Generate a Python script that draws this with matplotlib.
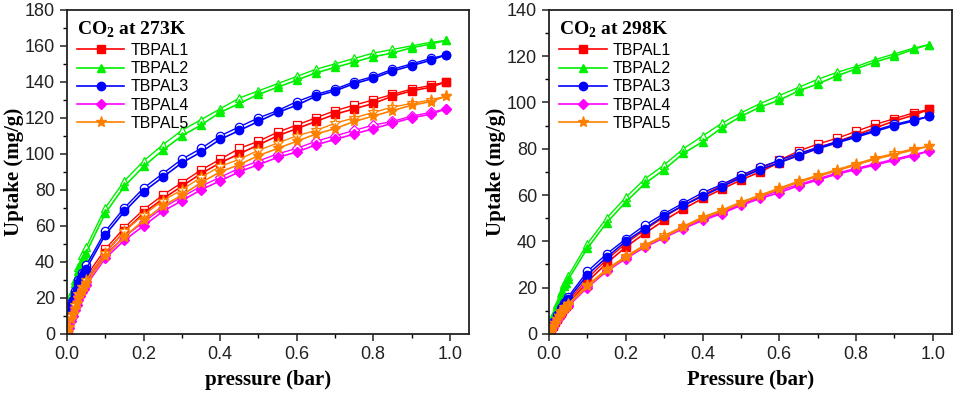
import matplotlib.pyplot as plt
from matplotlib.ticker import MultipleLocator

# pressure grids (bar)
p_ads = [0.002, 0.005, 0.01, 0.015, 0.02, 0.025, 0.03, 0.035, 0.04, 0.045, 0.05,
         0.1, 0.15, 0.2, 0.25, 0.3, 0.35, 0.4, 0.45, 0.5, 0.55, 0.6, 0.65,
         0.7, 0.75, 0.8, 0.85, 0.9, 0.95, 0.99]
p_des = [0.99, 0.95, 0.9, 0.85, 0.8, 0.75, 0.7, 0.65, 0.6, 0.55, 0.5, 0.45,
         0.4, 0.35, 0.3, 0.25, 0.2, 0.15, 0.1, 0.05, 0.04, 0.03, 0.02, 0.01]

names = ["TBPAL1", "TBPAL2", "TBPAL3", "TBPAL4", "TBPAL5"]
colors = ["#ff0000", "#00f000", "#0000ff", "#ff00ff", "#ff8000"]
markers = ["s", "^", "o", "D", "*"]

# CO2 at 273 K, adsorption
ads_273 = [
    [2, 6, 10, 13, 16, 19, 22, 24, 26, 28, 30,
     45, 57, 67, 75, 82, 89, 95, 100, 105, 110, 114, 118,
     122, 125, 128, 132, 135, 137, 140],
    [13, 16, 20, 24, 28, 31, 35, 38, 41, 43, 45,
     67, 82, 93, 102, 110, 116, 123, 128, 133, 137, 141, 145,
     148, 151, 154, 156, 159, 161, 163],
    [9, 12, 16, 19, 22, 25, 28, 30, 32, 34, 36,
     55, 68, 79, 87, 95, 101, 108, 113, 118, 123, 127, 132,
     135, 139, 142, 146, 149, 152, 155],
    [0, 3, 7, 10, 13, 16, 19, 21, 23, 25, 27,
     42, 52, 60, 68, 74, 80, 85, 90, 94, 98, 101, 105,
     108, 111, 114, 117, 120, 122, 125],
    [1, 4, 8, 11, 14, 17, 20, 22, 24, 26, 28,
     43, 54, 63, 71, 77, 84, 90, 94, 99, 103, 107, 111,
     114, 118, 121, 124, 127, 129, 132],
]
# CO2 at 273 K, desorption
des_273 = [
    [140, 138, 136, 133, 130, 127, 124, 120, 116, 112, 107, 103,
     97, 91, 84, 77, 69, 59, 47, 32, 28, 24, 18, 12],
    [163, 162, 160, 158, 156, 153, 150, 147, 143, 139, 135, 131,
     125, 119, 113, 105, 96, 85, 70, 48, 44, 37, 30, 22],
    [155, 153, 150, 147, 143, 140, 136, 133, 129, 124, 120, 115,
     110, 103, 97, 89, 81, 70, 57, 38, 34, 30, 24, 17],
    [125, 123, 121, 118, 116, 113, 110, 107, 103, 100, 96, 92,
     87, 82, 76, 70, 62, 54, 44, 29, 25, 21, 15, 9],
    [132, 130, 128, 126, 123, 120, 117, 113, 110, 106, 102, 97,
     93, 87, 80, 74, 66, 57, 45, 30, 26, 22, 16, 10],
]

# CO2 at 298 K, adsorption
ads_298 = [
    [0.5, 2, 3.5, 5, 6.5, 8, 9, 10, 11, 12, 13,
     22.5, 30.5, 37.5, 43.5, 49, 54, 58.5, 62.5, 66.5, 70, 74, 77.5,
     80.5, 83, 86, 89, 92, 94.5, 97],
    [3, 4, 7, 9.5, 12, 14, 16.5, 18.5, 20.5, 22, 23.5,
     37, 48, 57, 65, 71, 78, 83, 89, 94, 98, 101, 105,
     108, 111.5, 114.5, 117.5, 120, 123, 125],
    [1.5, 2.5, 4, 5.5, 7, 8.5, 10, 11.5, 12.5, 14, 15,
     25.5, 33, 40, 45.5, 51, 55.5, 59.5, 63.5, 67.5, 71, 74, 77,
     80, 82.5, 85, 87.5, 90, 92, 94],
    [0, 1.5, 3, 4.5, 6, 7, 8.5, 9.5, 10.5, 11.5, 12,
     20, 27, 32.5, 37.5, 41.5, 45.5, 49, 52, 55.5, 58.5, 61, 64,
     66.5, 69, 71, 73, 75, 77, 79],
    [0.2, 1.8, 3.2, 4.8, 6.2, 7.5, 8.8, 9.8, 10.8, 11.8, 12.5,
     20.5, 27.5, 33, 38, 42, 46, 50, 53, 56.5, 59.5, 62.5, 65.5,
     68, 70.5, 73, 75.5, 77.5, 79.5, 81],
]
# CO2 at 298 K, desorption
des_298 = [
    [97, 95.5, 93, 90.5, 87.5, 84.5, 82, 79, 75, 71.5, 68, 64,
     60, 55.5, 50.5, 45, 39, 32, 24, 14, 12, 10, 7, 4],
    [125, 123.5, 121, 118.5, 115.5, 113, 110, 106.5, 103, 99.5, 95.5, 91,
     85.5, 80, 73, 67, 59, 50, 39, 25, 21.5, 17.5, 13, 8],
    [94, 92.5, 90.5, 88, 85.5, 83, 80.5, 78, 75, 72, 68.5, 64.5,
     61, 56.5, 52, 47, 41, 34.5, 27, 16, 13.5, 11, 8, 5],
    [79, 77.5, 75.5, 73.5, 71.5, 69.5, 67, 64.5, 62, 59, 56, 52.5,
     49.5, 46, 42, 38, 33, 27.5, 20.5, 12.5, 11, 9, 6.5, 3.5],
    [81, 80, 78, 76, 73.5, 71, 68.5, 66, 63, 60, 57, 53.5,
     50.5, 46.5, 42.5, 38.5, 33.5, 28, 21, 13, 11.5, 9.5, 6.5, 3.5],
]

plt.rcParams['font.family'] = ['Liberation Sans', 'DejaVu Sans']
plt.rcParams['mathtext.fontset'] = 'custom'
plt.rcParams['mathtext.rm'] = 'Liberation Serif'
plt.rcParams['mathtext.bf'] = 'Liberation Serif:bold'

fig = plt.figure(figsize=(9.57, 3.96), dpi=100)
ax1 = fig.add_axes([0.070, 0.157, 0.420, 0.818])
ax2 = fig.add_axes([0.5737, 0.157, 0.4211, 0.818])


def draw_panel(ax, ads, des, ymax, title, xlabel):
    for i in range(len(names)):
        ms = 8 if markers[i] == "*" else 6
        if markers[i] == "D":
            ms = 5.5
        ax.plot(p_des, des[i], color=colors[i], marker=markers[i], ms=ms,
                mfc="white", mec=colors[i], mew=0.9, lw=1.0)
        ax.plot(p_ads, ads[i], color=colors[i], marker=markers[i], ms=ms,
                mec=colors[i], lw=1.2, label=names[i])
    ax.set_xlim(0, 1.05)
    ax.set_ylim(0, ymax)
    ax.xaxis.set_major_locator(MultipleLocator(0.2))
    ax.xaxis.set_minor_locator(MultipleLocator(0.1))
    ax.yaxis.set_major_locator(MultipleLocator(20))
    ax.yaxis.set_minor_locator(MultipleLocator(10))
    ax.xaxis.set_major_formatter(plt.FuncFormatter(lambda v, _: f"{v:.1f}"))
    ax.tick_params(which="major", direction="out", length=5, width=1.1,
                   labelsize=13, colors="#222222")
    ax.tick_params(which="minor", direction="out", length=3, width=1.0)
    for s in ax.spines.values():
        s.set_linewidth(1.3)
        s.set_color("#222222")
    ax.set_xlabel(xlabel, family="Liberation Serif", fontweight="bold",
                  fontsize=15, labelpad=5)
    ax.set_ylabel("Uptake (mg/g)", family="Liberation Serif",
                  fontweight="bold", fontsize=15, labelpad=1)
    leg = ax.legend(loc="upper left", frameon=False, fontsize=11.5,
                    title=title, handlelength=3.0, handletextpad=0.4,
                    labelspacing=0.2, borderaxespad=0.2,
                    bbox_to_anchor=(0.0, 1.0))
    leg.get_title().set_fontfamily("Liberation Serif")
    leg.get_title().set_fontweight("bold")
    leg.get_title().set_fontsize(14)
    leg._legend_box.align = "left"


draw_panel(ax1, ads_273, des_273, 180, "CO$_\\mathbf{2}$ at 273K", "pressure (bar)")
draw_panel(ax2, ads_298, des_298, 140, "CO$_\\mathbf{2}$ at 298K", "Pressure (bar)")

fig.savefig("out.png", dpi=100)
